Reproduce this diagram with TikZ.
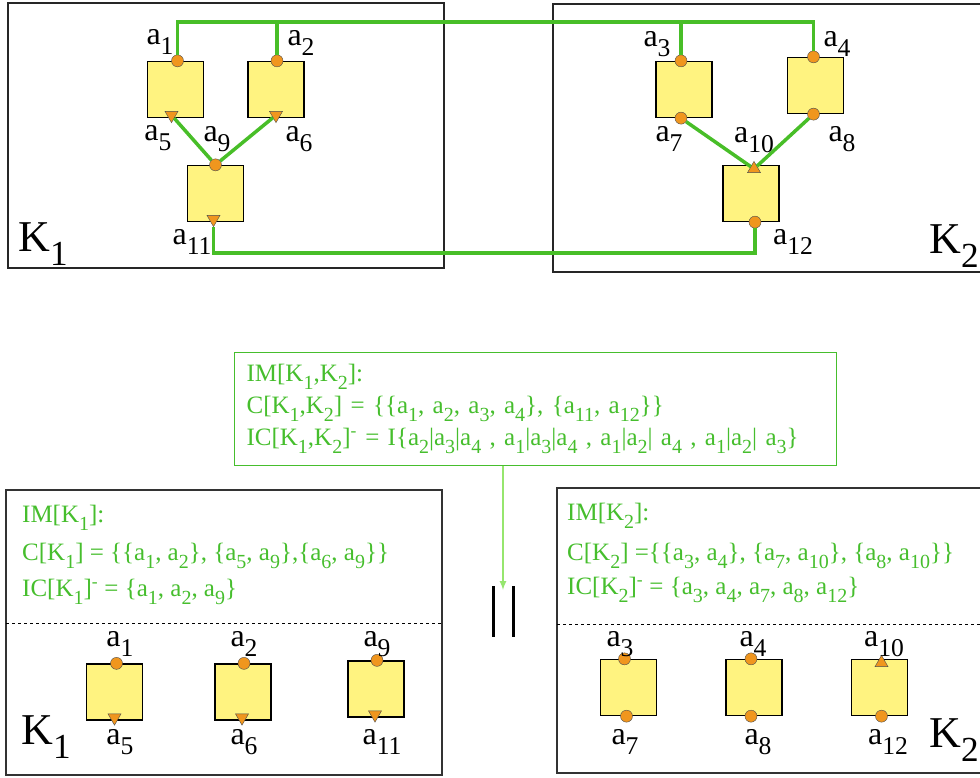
\documentclass[tikz,border=0pt]{standalone}
\usepackage{fontspec}
\setmainfont{Liberation Serif}
\usetikzlibrary{shapes.geometric}

\definecolor{boxyellow}{RGB}{255,243,128}
\definecolor{portorange}{RGB}{240,150,30}
\definecolor{wiregreen}{RGB}{72,190,40}
\definecolor{textgreen}{RGB}{70,190,45}
\definecolor{framegreen}{RGB}{130,210,100}
\definecolor{arrowgreen}{RGB}{150,230,110}

\newcommand{\low}[1]{\raisebox{-0.3em}{\scalebox{0.8}{#1}}}
\newcommand{\ai}[1]{a\low{#1}}
\newcommand{\Ki}[1]{K\low{#1}}

\tikzset{
  compbox/.style={draw, line width=1.3pt, fill=boxyellow, minimum width=56pt, minimum height=56pt, inner sep=0pt},
  portdot/.style={circle, draw=black!70, fill=portorange, minimum size=12pt, inner sep=0pt},
  porttri/.style={regular polygon, regular polygon sides=3, shape border rotate=180, draw=black!70, fill=portorange, minimum size=15pt, inner sep=0pt},
  portup/.style={regular polygon, regular polygon sides=3, draw=black!70, fill=portorange, minimum size=15pt, inner sep=0pt},
  wire/.style={wiregreen, line width=3.5pt},
  lbl/.style={font=\fontsize{32}{32}\selectfont, inner sep=0pt},
  klabel/.style={font=\fontsize{44}{44}\selectfont, inner sep=0pt},
  infotext/.style={textgreen, font=\fontsize{25}{32}\selectfont, align=left, inner sep=0pt, anchor=west}
}

\begin{document}
\begin{tikzpicture}[x=1pt, y=-1pt, >=latex]
  \useasboundingbox (0,0) rectangle (980,778);
  \clip (0,0) rectangle (980,778);

  % Frames
  \draw[black!85, line width=1.2pt] (8,3) rectangle (444,268);
  \draw[black!85, line width=1.2pt] (553,4) rectangle (1000,272);
  \draw[black!80, line width=1.2pt] (6,490) rectangle (442,775);
  \draw[black!80, line width=1.2pt] (557,488) rectangle (1000,773);
  \draw[dashed, line width=1pt] (6,623) -- (442,623);
  \draw[dashed, line width=1pt] (557,624) -- (980,624);

  % Components
  \foreach \n/\x/\y in {1/175.5/89.5, 2/276/89.5, 3/215.5/193.5, 4/684/89.5,
                        5/815.5/85.5, 6/751/193.5, 7/114.5/692, 8/243/692,
                        9/376/689, 10/628.5/687.5, 11/754/687.5, 12/879.5/687.5}
    \node[compbox] (B\n) at (\x,\y) {};

  % Ports
  \foreach \p/\b/\s in {1/B1.north/2, 2/B2.north/1, 9/B3.north/0, 3/B4.north/-3,
                        7/B4.south/-3, 4/B5.north/-2, 8/B5.south/-2, 12/B6.south/4}
    \node[portdot] (a\p) at ([xshift=\s]\b) {};
  \foreach \p/\b/\s in {5/B1/-4, 6/B2/0, 11/B3/-2}
    \node[porttri] (a\p) at ([shift={(\s,-3)}]\b.south) {};
  \node[portup] (a10) at ([shift={(3,4)}]B6.north) {};

  \foreach \p/\b/\s in {1/B7.north/2, 2/B8.north/1, 9/B9.north/1, 3/B10.north/-4,
                        7/B10.south/-2, 4/B11.north/-3, 8/B11.south/-3, 12/B12.south/2}
    \node[portdot] (s\p) at ([xshift=\s]\b) {};
  \foreach \p/\b/\s in {5/B7/0, 6/B8/-1, 11/B9/-1}
    \node[porttri] (s\p) at ([shift={(\s,-3)}]\b.south) {};
  \node[portup] (s10) at ([shift={(2,4)}]B12.north) {};

  % Wires
  \coordinate (bus) at (0,22);
  \coordinate (low) at (0,253);
  \draw[wire] (a1) -- (a1 |- bus) -- (a4 |- bus) -- (a4);
  \draw[wire] (a2) -- (a2 |- bus);
  \draw[wire] (a3) -- (a3 |- bus);
  \foreach \u/\v in {5/9, 6/9, 7/10, 8/10}
    \draw[wire] (a\u) -- (a\v);
  \draw[wire] (a11) -- (a11 |- low) -- (a12 |- low) -- (a12);

  % Labels
  \foreach \p/\x/\y in {1/160/42, 2/301/43, 5/158/138, 9/217/139, 6/299/139, 11/192/242,
                        3/657/44, 4/837/44, 7/669/139, 10/754/140, 8/842/139, 12/793/242}
    \node[lbl] (la\p) at (\x,\y) {\ai{\p}};
  \foreach \p/\x/\y in {1/120/644, 2/244/644, 9/377/644, 5/120/742, 6/244/742, 11/382/742,
                        3/620/644, 4/753/644, 10/884/644, 7/625/742, 8/758/742, 12/888/742}
    \node[lbl] (ls\p) at (\x,\y) {\ai{\p}};
  \node[klabel] (K1top) at (43,244) {\Ki{1}};
  \node[klabel, anchor=east] (K2top) at (979,246) {\Ki{2}};
  \node[klabel] (K1bot) at (46,737) {\Ki{1}};
  \node[klabel, anchor=east] (K2bot) at (979,740) {\Ki{2}};

  % Interface of K1 and K2
  \node[draw=framegreen, line width=1.2pt, anchor=north west, inner sep=12pt,
        text width=578pt, minimum height=108pt, textgreen, align=left,
        font=\fontsize{25}{32}\selectfont] (imK) at (234,352)
    {IM[\Ki{1},\Ki{2}]:\\
     C[\Ki{1},\Ki{2}] = \{\{\ai{1}, \ai{2}, \ai{3}, \ai{4}\}, \{\ai{11}, \ai{12}\}\}\\
     IC[\Ki{1},\Ki{2}]\textsuperscript{-} = I\{\ai{2}|\ai{3}|\ai{4} , \ai{1}|\ai{3}|\ai{4} , \ai{1}|\ai{2}| \ai{4} , \ai{1}|\ai{2}| \ai{3}\}};
  \coordinate (par) at (503,590);
  \draw[->, arrowgreen, line width=2pt] (imK.south -| par) -- (par);
  \draw[line width=3pt] (493,586) -- (493,637);
  \draw[line width=3pt] (513,586) -- (513,637);

  % Interfaces of the parts
  \node[infotext] (imK1) at (22,518) {IM[\Ki{1}]:};
  \node[infotext] (cK1) at (22,556) {C[\Ki{1}] = \{\{\ai{1}, \ai{2}\}, \{\ai{5}, \ai{9}\},\{\ai{6}, \ai{9}\}\}};
  \node[infotext] (icK1) at (22,592) {IC[\Ki{1}]\textsuperscript{-} = \{\ai{1}, \ai{2}, \ai{9}\}};
  \node[infotext] (imK2) at (567,516) {IM[\Ki{2}]:};
  \node[infotext] (cK2) at (567,556) {C[\Ki{2}] =\{\{\ai{3}, \ai{4}\}, \{\ai{7}, \ai{10}\}, \{\ai{8}, \ai{10}\}\}};
  \node[infotext] (icK2) at (567,590) {IC[\Ki{2}]\textsuperscript{-} = \{\ai{3}, \ai{4}, \ai{7}, \ai{8}, \ai{12}\}};
\end{tikzpicture}
\end{document}
